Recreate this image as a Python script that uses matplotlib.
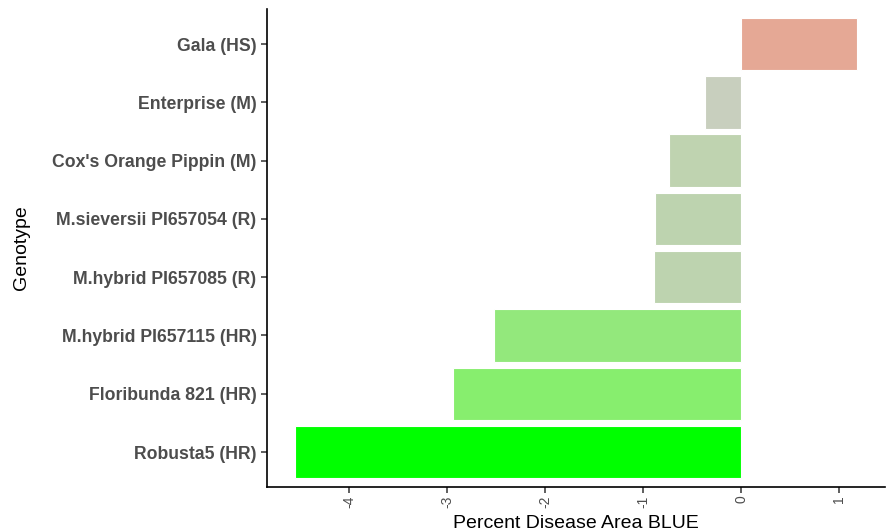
import matplotlib
matplotlib.use("Agg")
import matplotlib.pyplot as plt

genotypes = ["Robusta5 (HR)", "Floribunda 821 (HR)", "M.hybrid PI657115 (HR)",
             "M.hybrid PI657085 (R)", "M.sieversii PI657054 (R)",
             "Cox's Orange Pippin (M)", "Enterprise (M)", "Gala (HS)"]
values = [-4.55, -2.94, -2.52, -0.89, -0.88, -0.74, -0.37, 1.18]
colors = ["#00FF00", "#87EE6E", "#93E87C", "#BDD3AF", "#BDD3AF",
          "#BFD3B0", "#C8CFBE", "#E5A895"]
xticks = [-4, -3, -2, -1, 0, 1]

plt.rcParams['font.family'] = ['Liberation Sans', 'DejaVu Sans']
fig = plt.figure(figsize=(8.89, 5.32), dpi=100)
ax = fig.add_axes([0.3003, 0.0846, 0.6952, 0.8984])
pos = list(range(1, len(genotypes) + 1))
ax.barh(pos, values, height=0.9, color=colors, edgecolor="white", linewidth=0.8)
vmin, vmax = min(values + [0]), max(values + [0])
pad = 0.05 * (vmax - vmin)
ax.set_xlim(vmin - pad, vmax + pad)
ax.set_ylim(0.4, len(genotypes) + 0.6)
ax.set_yticks(pos)
ax.set_yticklabels(genotypes, fontsize=12.7, fontweight="bold", color="#4D4D4D")
ax.set_xticks(xticks)
ax.set_xticklabels([str(t) for t in xticks], rotation=90, fontsize=10, color="#4D4D4D")
for s in ["top", "right"]:
    ax.spines[s].set_visible(False)
for s in ["left", "bottom"]:
    ax.spines[s].set_linewidth(1.2)
    ax.spines[s].set_color("black")
ax.tick_params(axis="both", length=4, width=1.1, color="#333333")
ax.tick_params(axis="x", pad=2)
ax.set_xlabel("Percent Disease Area BLUE", fontsize=14, color="black")
ax.set_ylabel("Genotype", fontsize=14, color="black")
ax.xaxis.set_label_coords(0.5, -0.058)
ax.yaxis.set_label_coords(-0.383, 0.5)
fig.savefig("out.png", dpi=100)
